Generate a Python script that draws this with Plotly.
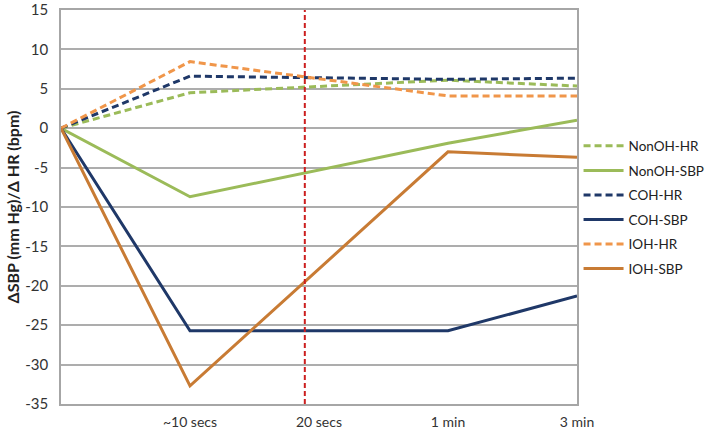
import plotly.graph_objects as go

time_labels = ["", "~10 secs", "20 secs", "1 min", "3 min"]
x_idx = [0, 1, 2, 3, 4]
y_ticks = [15, 10, 5, 0, -5, -10, -15, -20, -25, -30, -35]

nonoh_hr = [0, 4.5, None, 6.1, 5.35]
nonoh_sbp = [0, -8.7, None, -1.9, 1.0]
coh_hr = [0, 6.6, None, 6.2, 6.35]
coh_sbp = [0, -25.7, None, -25.7, -21.3]
ioh_hr = [0, 8.45, None, 4.1, 4.1]
ioh_sbp = [0, -32.7, None, -3.0, -3.7]

marker_line_x = 1.89  # red dashed reference line (just before "20 secs")

series = [
    ("NonOH-HR", nonoh_hr, "#9BBB59", "7px,4px"),
    ("NonOH-SBP", nonoh_sbp, "#9BBB59", "solid"),
    ("COH-HR", coh_hr, "#1F3868", "7px,4px"),
    ("COH-SBP", coh_sbp, "#1F3868", "solid"),
    ("IOH-HR", ioh_hr, "#F0964A", "7px,4px"),
    ("IOH-SBP", ioh_sbp, "#C87B34", "solid"),
]

fig = go.Figure()
for i, (name, vals, col, dash) in enumerate(series):
    fig.add_trace(go.Scatter(
        x=x_idx, y=vals, name=name, mode="lines", connectgaps=True,
        line=dict(color=col, width=3, dash=dash), legendgroup=f"g{i}",
    ))

fig.add_shape(type="line", xref="x", yref="paper", x0=marker_line_x, x1=marker_line_x,
              y0=0, y1=1, line=dict(color="#CC1F1F", width=2, dash="5px,3px"))

font_family = "Lato, 'Open Sans', sans-serif"
fig.update_layout(
    width=707, height=430,
    margin=dict(l=61, r=130, t=10, b=26, autoexpand=False),
    paper_bgcolor="white", plot_bgcolor="white",
    font=dict(family=font_family, size=14, color="#333333"),
    legend=dict(x=1.003, y=0.694, xanchor="left", yanchor="top",
                font=dict(size=13.5, color="#222222"), tracegroupgap=4,
                itemwidth=40, bgcolor="rgba(0,0,0,0)"),
    showlegend=True,
)
fig.update_xaxes(
    range=[0, 4], tickvals=x_idx, ticktext=time_labels, showgrid=False,
    showline=True, mirror=True, linecolor="#A6A6A6", linewidth=1.5,
    ticks="", zeroline=False, tickfont=dict(size=14), automargin=False,
    ticklabelstandoff=4,
)
fig.update_yaxes(
    range=[-35, 15], tickvals=y_ticks, ticktext=[str(v) for v in y_ticks],
    showgrid=True, gridcolor="#ADADAD", gridwidth=1.5,
    showline=True, mirror=True, linecolor="#A6A6A6", linewidth=1.5,
    zeroline=False, ticks="", tickfont=dict(size=15), ticklabelstandoff=8,
    automargin=False,
    title=dict(text="<b>ΔSBP (mm Hg)/Δ HR (bpm)</b>", font=dict(size=16, color="#222222"), standoff=2),
)

fig.write_html("out.html", config={"displayModeBar": False},
               post_script="document.body.style.margin='0';document.body.style.overflow='hidden';")
